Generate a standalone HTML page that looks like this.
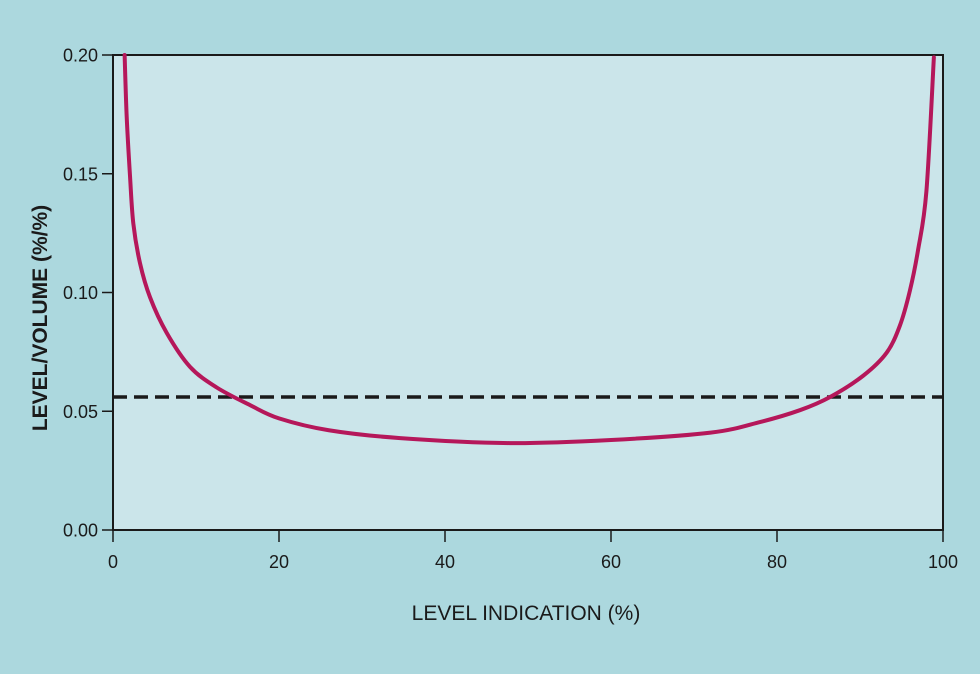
<!DOCTYPE html>
<html><head><meta charset="utf-8"><style>
body{margin:0;background:#fff}
#wrap{position:relative;width:980px;height:674px;background:#acd8de;overflow:hidden}
svg{position:absolute;left:0;top:0}
text{font-family:"Liberation Sans",sans-serif;fill:#1a1a1a}
</style></head><body>
<div id="wrap">
<svg id="chart" width="980" height="674"></svg>
</div>
<script>
const xTicks=[0,20,40,60,80,100];
const yTicks=[0.00,0.05,0.10,0.15,0.20];
const yTickLabels=["0.00","0.05","0.10","0.15","0.20"];
const curveX=[1.4,1.65,2.05,2.45,3.25,4.46,6.47,9.28,12.5,16.5,20,26,34.6,47.8,60,72,78,82.8,86.4,90.4,93.2,94.8,96.0,97.0,98.0,98.9];
const curveY=[0.20,0.174,0.149,0.129,0.1124,0.098,0.083,0.0687,0.060,0.0526,0.047,0.042,0.0387,0.0366,0.0379,0.041,0.0455,0.0505,0.056,0.065,0.0746,0.086,0.1006,0.118,0.1426,0.199];
const refLevel=0.056;

const X0=113,X1=943,Y0=530,Y1=55;
const sx=v=>X0+(v-0)/(100-0)*(X1-X0);
const sy=v=>Y0-(v-0)/(0.20-0)*(Y0-Y1);
const svg=document.getElementById('chart');
const NS='http://www.w3.org/2000/svg';
function mk(tag,attrs,txt){const e=document.createElementNS(NS,tag);for(const k in attrs)e.setAttribute(k,attrs[k]);if(txt!==undefined)e.textContent=txt;svg.appendChild(e);return e;}

let e=mk('rect',{x:X0,y:Y1,width:X1-X0,height:Y0-Y1,fill:'#cbe5ea',stroke:'#1a1a1a','stroke-width':2});



xTicks.forEach(t=>{
  let l=mk('line',{x1:sx(t),x2:sx(t),y1:Y0,y2:Y0+12,stroke:'#1a1a1a','stroke-width':1.5});
  
  
  let tx=mk('text',{x:sx(t),y:568,'font-size':18,'text-anchor':'middle'},String(t));
  
  
});
yTicks.forEach((t,i)=>{
  let l=mk('line',{x1:X0-11,x2:X0,y1:sy(t),y2:sy(t),stroke:'#1a1a1a','stroke-width':1.5});
  
  
  let tx=mk('text',{x:X0-15,y:sy(t)+6.5,'font-size':18,'text-anchor':'end'},yTickLabels[i]);
  
  
});

let d=mk('line',{x1:X0,x2:X1,y1:sy(refLevel),y2:sy(refLevel),stroke:'#1a1a1a','stroke-width':3.5,'stroke-dasharray':'14 7'});



const pts=curveX.map((v,i)=>[sx(v),sy(curveY[i])]);
let p='M'+pts[0][0]+','+pts[0][1];
for(let i=0;i<pts.length-1;i++){
  const p0=pts[Math.max(0,i-1)],p1=pts[i],p2=pts[i+1],p3=pts[Math.min(pts.length-1,i+2)];
  const c1=[p1[0]+(p2[0]-p0[0])/6,p1[1]+(p2[1]-p0[1])/6];
  const c2=[p2[0]-(p3[0]-p1[0])/6,p2[1]-(p3[1]-p1[1])/6];
  p+=` C${c1[0]},${c1[1]} ${c2[0]},${c2[1]} ${p2[0]},${p2[1]}`;
}
let c=mk('path',{d:p,fill:'none',stroke:'#b5175a','stroke-width':4,'stroke-linecap':'round'});



let xt=mk('text',{x:526,y:620,'font-size':21,'text-anchor':'middle'},'LEVEL INDICATION (%)');


let yt=mk('text',{x:0,y:0,'font-size':21,'text-anchor':'middle','font-weight':'bold',transform:'translate(47,318) rotate(-90)'},'LEVEL/VOLUME (%/%)');


</script>
</body></html>
